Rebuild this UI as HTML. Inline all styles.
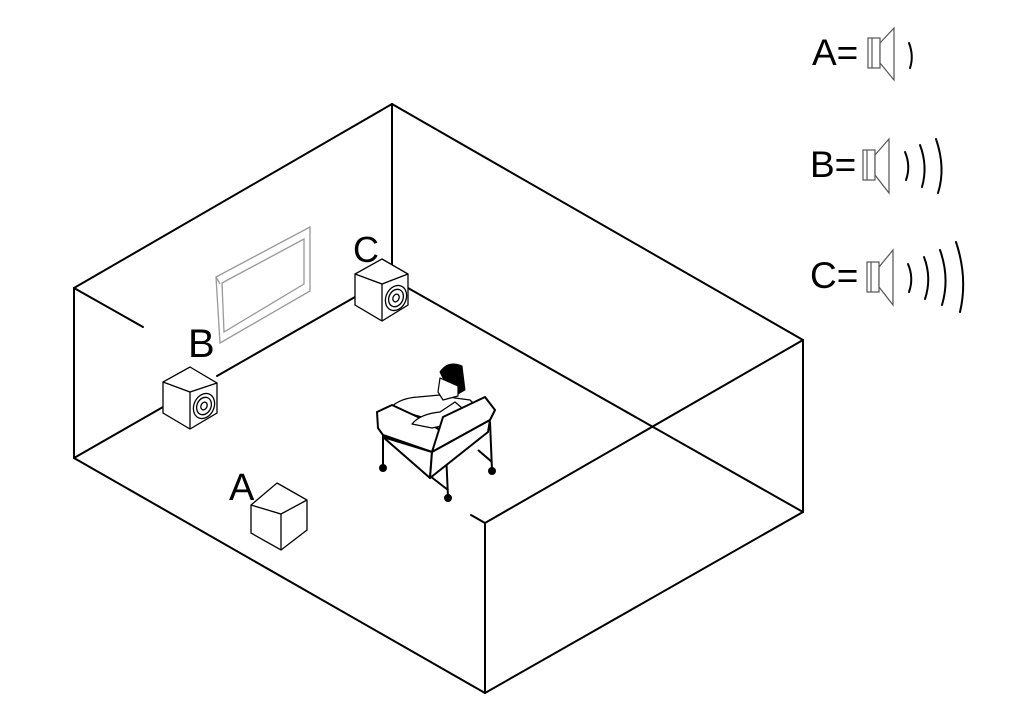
<!DOCTYPE html>
<html><head><meta charset="utf-8"><style>
html,body{margin:0;padding:0;background:#fff;}
svg{display:block;}
text{font-family:"Liberation Sans",sans-serif;fill:#000;}
</style></head><body>
<svg width="1024" height="716" viewBox="0 0 1024 716" xmlns="http://www.w3.org/2000/svg">
<g stroke="#000" stroke-width="2" fill="none" stroke-linecap="round">
  <!-- room -->
  <line x1="74" y1="288" x2="392" y2="104"/>
  <line x1="392" y1="104" x2="803" y2="340"/>
  <line x1="74" y1="288" x2="143" y2="327"/>
  <line x1="74" y1="288" x2="74" y2="458"/>
  <line x1="392" y1="104" x2="392" y2="265"/>
  <line x1="74" y1="458" x2="163" y2="407"/>
  <line x1="217" y1="376" x2="355" y2="297"/>
  <line x1="408" y1="288" x2="803" y2="512"/>
  <line x1="803" y1="340" x2="803" y2="512"/>
  <line x1="74" y1="458" x2="485" y2="693"/>
  <line x1="485" y1="693" x2="803" y2="512"/>
  <line x1="485" y1="523" x2="485" y2="693"/>
  <line x1="485" y1="523" x2="803" y2="340"/>
  <line x1="471" y1="515" x2="485" y2="523"/>
</g>
<!-- TV -->
<g stroke="#999" stroke-width="1.3" fill="#fff">
  <polygon points="216,277 310,227 310,291 220,343"/>
  <polygon points="222,283 304,239 304,284 224,332" fill="none"/>
  <line x1="216" y1="277" x2="220" y2="284"/>
</g>
<!-- speaker B -->
<g stroke="#000" stroke-width="1.3" fill="#fff">
  <polygon points="190,367 217,383 217,413 190,429 163,413 163,382"/>
  <polyline points="163,382 190,392 217,383" fill="none"/>
  <line x1="190" y1="392" x2="190" y2="429"/>
  <ellipse cx="204" cy="406" rx="10" ry="13" transform="rotate(25 204 406)"/>
  <ellipse cx="204" cy="406" rx="7" ry="9" transform="rotate(25 204 406)"/>
  <ellipse cx="204" cy="406" rx="3" ry="4" transform="rotate(25 204 406)"/>
</g>
<!-- speaker C -->
<g stroke="#000" stroke-width="1.3" fill="#fff">
  <polygon points="382,259 408,274 408,305 382,321 355,305 355,274"/>
  <polyline points="355,274 382,284 408,274" fill="none"/>
  <line x1="382" y1="284" x2="382" y2="321"/>
  <ellipse cx="396" cy="298" rx="10" ry="13" transform="rotate(25 396 298)"/>
  <ellipse cx="396" cy="298" rx="7" ry="9" transform="rotate(25 396 298)"/>
  <ellipse cx="396" cy="298" rx="3" ry="4" transform="rotate(25 396 298)"/>
</g>
<!-- speaker A -->
<g stroke="#000" stroke-width="1.3" fill="#fff">
  <polygon points="277,483 307,500 307,530 281,550 251,533 251,505"/>
  <polyline points="251,505 281,514 307,500" fill="none"/>
  <line x1="281" y1="514" x2="281" y2="550"/>
</g>
<!-- chair + person -->
<g stroke="#000" stroke-width="2" fill="#fff" stroke-linejoin="round">
  <line x1="383" y1="425" x2="383" y2="467"/>
  <line x1="446" y1="452" x2="448" y2="497"/>
  <line x1="490" y1="422" x2="492" y2="470"/>
  <line x1="430" y1="476" x2="448" y2="490"/>
  <line x1="478" y1="450" x2="492" y2="462"/>
  <circle cx="383" cy="468" r="3" fill="#000"/>
  <circle cx="448" cy="498" r="3" fill="#000"/>
  <circle cx="492" cy="471" r="3" fill="#000"/>
  <path d="M390,408 Q400,398 418,397 L440,395 L455,398 L470,400 L478,408 L450,425 Z" stroke-width="1.3"/>
  <polygon points="377,412 392,405 420,418 440,430 432,452 383,435 378,428"/>
  <path d="M412,424 Q420,414 440,412 L455,402 L462,408 L446,425 L432,428 Z" stroke-width="1.3"/>
  <polygon points="443,417 485,397 495,410 490,420 432,452 430,478 383,437 432,452" />
  <polygon points="432,452 490,420 488,432 430,478"/>
  <path d="M440,372 Q448,360 462,366 L465,390 L458,394 L452,382 L445,382 Z" fill="#000" stroke-width="1"/>
  <path d="M440,378 L438,392 L443,400 L458,396 L458,386 Z" stroke-width="1.2"/>
</g>
<!-- labels -->
<text x="188" y="357" font-size="40">B</text>
<text x="353" y="262" font-size="36">C</text>
<text x="229" y="500" font-size="38">A</text>
<text x="812" y="65" font-size="37">A=</text>
<text x="810" y="177" font-size="37">B=</text>
<text x="810" y="288" font-size="37">C=</text>
<!-- legend icons -->
<g stroke="#555" stroke-width="1.2" fill="#fff">
  <rect x="868" y="38" width="12" height="30"/>
  <line x1="872" y1="38" x2="872" y2="68"/>
  <polygon points="880,43 894,28 894,80 880,63"/>
  <rect x="863" y="150" width="12" height="30"/>
  <line x1="867" y1="150" x2="867" y2="180"/>
  <polygon points="875,155 889,139 889,193 875,175"/>
  <rect x="867" y="262" width="12" height="30"/>
  <line x1="871" y1="262" x2="871" y2="292"/>
  <polygon points="879,267 893,250 893,305 879,287"/>
</g>
<g stroke="#000" stroke-width="2" fill="none" stroke-linecap="round">
  <path d="M909,43 Q914,56 910,68"/>
  <path d="M905,152 Q911,166 906,180"/>
  <path d="M920,145 Q928,166 922,187"/>
  <path d="M936,139 Q946,168 938,193"/>
  <path d="M908,264 Q914,278 909,292"/>
  <path d="M924,257 Q932,278 925,299"/>
  <path d="M940,250 Q950,278 942,305"/>
  <path d="M956,242 Q968,278 960,312"/>
</g>
</svg>
</body></html>
